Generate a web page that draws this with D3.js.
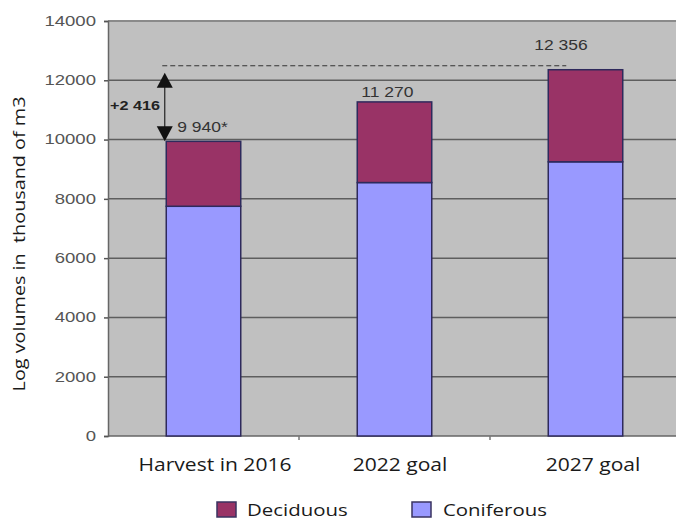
<!DOCTYPE html>
<html>
<head>
<meta charset="utf-8">
<script src="https://cdn.jsdelivr.net/npm/d3@7"></script>
<style>
  html, body { margin: 0; padding: 0; background: #fff; }
  svg { display: block; }
</style>
</head>
<body>
<svg id="chart" width="676" height="522"></svg>
<script>
// Log harvest volumes, thousand m3
const categories = ["Harvest in 2016", "2022 goal", "2027 goal"];
const coniferous = [7750, 8550, 9250];
const totals = [9940, 11270, 12356];
const deciduous = totals.map((t, i) => t - coniferous[i]);
const totalLabels = ["9 940*", "11 270", "12 356"];
const yTicks = [0, 2000, 4000, 6000, 8000, 10000, 12000, 14000];
const seriesNames = ["Deciduous", "Coniferous"];
const growthLabel = "+2 416";

const plot = { left: 108, right: 681, top: 21, bottom: 436 };
const colors = { Deciduous: "#993366", Coniferous: "#9999ff" };
const SX = 1.2; // horizontal stretch of the lettering

const svg = d3.select("#chart");

const x = d3.scaleBand().domain(categories).range([plot.left, plot.right]).paddingInner(0.61).paddingOuter(0.305);
const y = d3.scaleLinear().domain([0, 14000]).range([plot.bottom, plot.top]);

// stretched text helper
function stext(parent, px, py, str, opts) {
  const g = parent.append("g").attr("transform", `translate(${px},${py}) scale(${opts.sx || SX},1)`);
  const t = g.append("text").text(str)
    .attr("text-anchor", opts.anchor || "start")
    .attr("font-family", opts.font || "Liberation Sans, Arial, sans-serif")
    .attr("font-size", opts.size || 13)
    .attr("font-weight", opts.weight || "normal")
    .attr("fill", opts.fill || "#333");
  if (opts.baseline) t.attr("dominant-baseline", opts.baseline);
  return t;
}

// plot background
svg.append("rect")
  .attr("x", plot.left).attr("y", plot.top)
  .attr("width", plot.right - plot.left).attr("height", plot.bottom - plot.top)
  .attr("fill", "#c0c0c0");

// gridlines
svg.append("g").selectAll("line").data(yTicks.filter(d => d > 0)).join("line")
  .attr("x1", plot.left).attr("x2", plot.right)
  .attr("y1", d => y(d)).attr("y2", d => y(d))
  .attr("stroke", d => d === 14000 ? "#8a8a8a" : "#5e5e5e")
  .attr("stroke-width", d => d === 14000 ? 2 : 1.5);

// y axis
const yAxis = d3.axisLeft(y).tickValues(yTicks).tickSize(4).tickFormat(d3.format("d"));
const ya = svg.append("g").attr("transform", `translate(${plot.left},0)`).call(yAxis);
ya.select(".domain").attr("stroke", "#666").attr("stroke-width", 1.5);
ya.selectAll(".tick line").attr("stroke", "#555").attr("stroke-width", 1.5);
ya.selectAll(".tick text").remove();
yTicks.forEach(v => {
  stext(svg, plot.left - 12, y(v), String(v), { anchor: "end", size: 14.5, fill: "#555", baseline: "central", sx: 1.28 });
});

// x axis
const xTickPos = [plot.left + x.step(), plot.left + 2 * x.step()];
svg.append("line")
  .attr("x1", plot.left).attr("x2", plot.right)
  .attr("y1", plot.bottom).attr("y2", plot.bottom)
  .attr("stroke", "#666").attr("stroke-width", 1.5);
svg.append("g").selectAll("line").data(xTickPos).join("line")
  .attr("x1", d => d).attr("x2", d => d)
  .attr("y1", plot.bottom).attr("y2", plot.bottom + 4)
  .attr("stroke", "#777").attr("stroke-width", 1.5);

// stacked bars
const stackData = categories.map((c, i) => ({ cat: c, Coniferous: coniferous[i], Deciduous: deciduous[i] }));
const stack = d3.stack().keys(["Coniferous", "Deciduous"])(stackData);
svg.append("g").selectAll("g").data(stack).join("g")
  .attr("fill", d => colors[d.key])
  .selectAll("rect").data(d => d).join("rect")
  .attr("x", d => x(d.data.cat))
  .attr("y", d => y(d[1]))
  .attr("width", x.bandwidth())
  .attr("height", d => y(d[0]) - y(d[1]))
  .attr("stroke", "#2e2a5c")
  .attr("stroke-width", 1.5);

// total labels
const labelOffsets = [[11, -9], [4, -5], [-14, -20]];
totals.forEach((t, i) => {
  stext(svg, x(categories[i]) + labelOffsets[i][0], y(t) + labelOffsets[i][1], totalLabels[i],
    { size: 14, fill: "#333", sx: 1.25 });
});

// dashed reference line at the 2027 level
svg.append("line")
  .attr("x1", x(categories[0]) - 4).attr("x2", x(categories[2]) + 18)
  .attr("y1", y(totals[2]) - 4).attr("y2", y(totals[2]) - 4)
  .attr("stroke", "#333").attr("stroke-width", 1.2)
  .attr("stroke-dasharray", "5,3");

// growth arrow between 2016 harvest and 2027 goal
const ax = x(categories[0]) - 1.5;
const yTop = y(totals[2]) + 3, yBot = y(totals[0]);
svg.append("line")
  .attr("x1", ax).attr("x2", ax)
  .attr("y1", yTop + 10).attr("y2", yBot - 10)
  .attr("stroke", "#222").attr("stroke-width", 1.2);
svg.append("path")
  .attr("d", `M${ax},${yTop} L${ax - 8},${yTop + 15} L${ax + 8},${yTop + 15} Z`)
  .attr("fill", "#111");
svg.append("path")
  .attr("d", `M${ax},${yBot} L${ax - 8},${yBot - 15} L${ax + 8},${yBot - 15} Z`)
  .attr("fill", "#111");
stext(svg, plot.left + 2, (yTop + yBot) / 2 - 2, growthLabel,
  { size: 13.5, weight: "bold", fill: "#222", baseline: "central", sx: 1.2 });

// category labels
const xl = [215, 400, 593];
categories.forEach((c, i) => {
  stext(svg, xl[i], 471, c, { anchor: "middle", size: 18, font: "Open Sans, sans-serif", fill: "#1a1a1a", sx: 1.17 });
});

// y axis title
svg.append("g").attr("transform", `translate(25,244) rotate(-90) scale(1.2,1)`)
  .append("text").text("Log volumes in  thousand of m3")
  .attr("text-anchor", "middle")
  .attr("font-family", "Open Sans, sans-serif")
  .attr("font-size", 16.5)
  .attr("fill", "#1a1a1a")
  .attr("xml:space", "preserve").style("white-space", "pre");

// legend
const legendPos = [[217, 247], [412, 443]];
seriesNames.forEach((s, i) => {
  svg.append("rect")
    .attr("x", legendPos[i][0]).attr("y", 502)
    .attr("width", 19).attr("height", 15)
    .attr("fill", colors[s]).attr("stroke", "#3a3360").attr("stroke-width", 1.5);
  stext(svg, legendPos[i][1], 516, s, { size: 17, font: "Open Sans, sans-serif", fill: "#1a1a1a", sx: 1.2 });
});
</script>
</body>
</html>
